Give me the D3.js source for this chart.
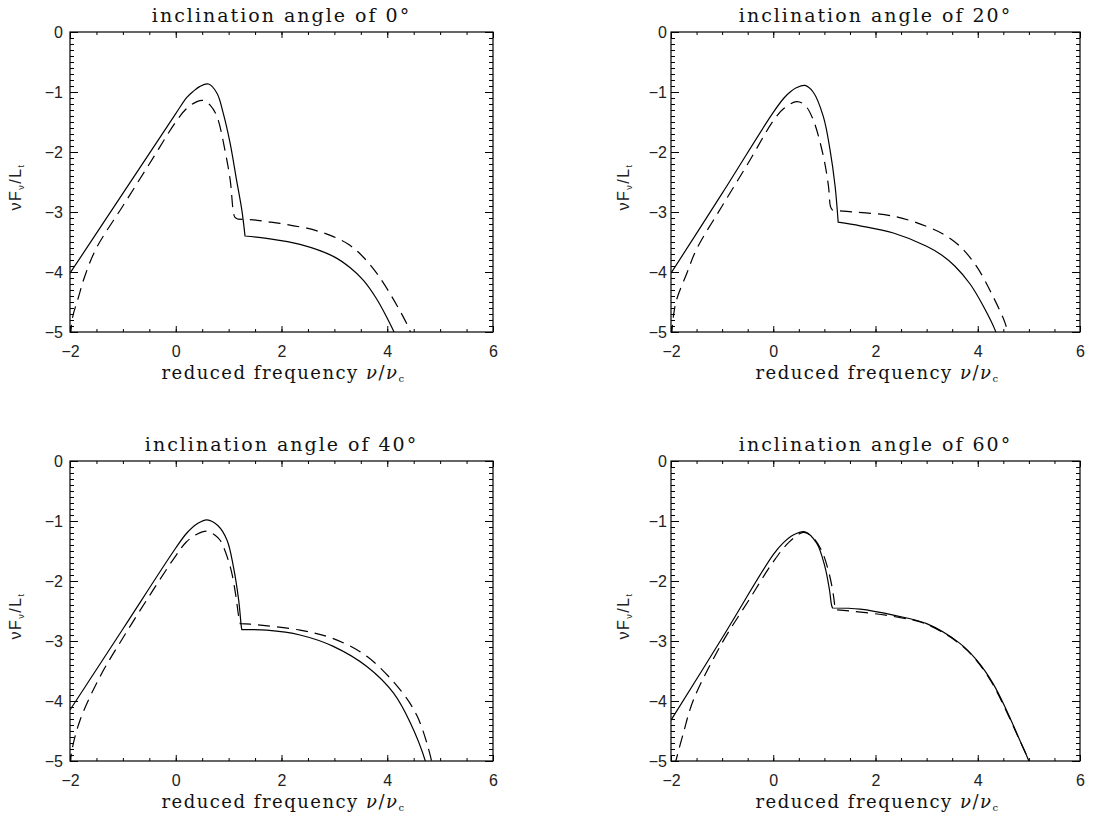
<!DOCTYPE html>
<html>
<head>
<meta charset="utf-8">
<script src="https://cdn.jsdelivr.net/npm/d3@7"></script>
<style>
body{margin:0;background:#fff;}
svg{display:block;}
</style>
</head>
<body>
<svg id="chart" width="1100" height="819"></svg>
<script>
// angles of the four panels
var angles = [0, 20, 40, 60];
var xTicks = [-2, 0, 2, 4, 6];
var yTicks = [0, -1, -2, -3, -4, -5];

// [reduced frequency, log nuFnu/Lt]
// each curve: rising part + drop, then the tail after the break
var solid0 = [[-2,-4.02],[-1,-2.69],[0,-1.36],[0.21,-1.09],[0.33,-0.99],[0.45,-0.91],[0.62,-0.867],[0.78,-1.02],[0.90,-1.36],[1.03,-1.86],[1.15,-2.47],[1.25,-2.97],[1.31,-3.40]];
var solid0Tail = [[1.31,-3.40],[1.72,-3.44],[2.35,-3.54],[2.98,-3.74],[3.30,-3.93],[3.55,-4.14],[3.80,-4.45],[4.0,-4.77],[4.14,-5.02],[4.17,-5.08]];
var dash0 = [[-1.99,-5.08],[-1.95,-4.75],[-1.85,-4.45],[-1.72,-4.07],[-1.5,-3.6],[-1,-2.9],[-0.5,-2.2],[0,-1.5],[0.2,-1.28],[0.40,-1.16],[0.52,-1.14],[0.65,-1.22],[0.78,-1.41],[0.93,-1.97],[1.03,-2.47],[1.09,-3.0],[1.12,-3.09],[1.18,-3.12]];
var dash0Tail = [[1.18,-3.12],[1.47,-3.13],[1.72,-3.16],[1.97,-3.19],[2.23,-3.23],[2.48,-3.27],[2.73,-3.33],[2.98,-3.41],[3.25,-3.53],[3.49,-3.70],[3.80,-4.02],[4.12,-4.46],[4.42,-4.96],[4.46,-5.08]];

var solid20 = [[-2,-4.02],[-1,-2.69],[0,-1.34],[0.21,-1.10],[0.33,-1.0],[0.45,-0.93],[0.62,-0.89],[0.78,-1.0],[0.98,-1.41],[1.11,-1.96],[1.21,-2.57],[1.27,-3.17]];
var solid20Tail = [[1.27,-3.17],[1.70,-3.23],[2.35,-3.35],[3.0,-3.57],[3.30,-3.72],[3.55,-3.90],[3.85,-4.20],[4.11,-4.57],[4.35,-4.99],[4.38,-5.08]];
var dash20 = [[-1.99,-5.08],[-1.95,-4.72],[-1.89,-4.46],[-1.69,-4.02],[-1.5,-3.62],[-1,-2.9],[-0.5,-2.2],[0,-1.48],[0.2,-1.28],[0.46,-1.16],[0.62,-1.22],[0.78,-1.46],[0.98,-2.07],[1.08,-2.57],[1.12,-2.91],[1.16,-2.97]];
var dash20Tail = [[1.16,-2.97],[1.44,-2.99],[2.35,-3.07],[3.0,-3.24],[3.35,-3.38],[3.65,-3.57],[3.98,-3.91],[4.30,-4.41],[4.53,-4.84],[4.61,-5.08]];

var solid40 = [[-2,-4.15],[-1,-2.8],[0,-1.45],[0.21,-1.2],[0.4,-1.05],[0.59,-0.98],[0.8,-1.08],[0.97,-1.32],[1.09,-1.76],[1.19,-2.32],[1.24,-2.76],[1.25,-2.81]];
var solid40Tail = [[1.25,-2.81],[1.72,-2.82],[2.35,-2.9],[2.98,-3.09],[3.62,-3.43],[4.12,-3.87],[4.44,-4.37],[4.72,-5.0],[4.74,-5.08]];
var dash40 = [[-1.99,-5.08],[-1.97,-4.85],[-1.81,-4.32],[-1.43,-3.59],[-1,-2.95],[-0.5,-2.25],[0,-1.58],[0.2,-1.35],[0.4,-1.22],[0.59,-1.17],[0.75,-1.24],[0.84,-1.32],[1.03,-1.76],[1.13,-2.21],[1.19,-2.59],[1.22,-2.71]];
var dash40Tail = [[1.22,-2.71],[1.41,-2.72],[2.35,-2.82],[2.98,-2.96],[3.62,-3.26],[4.25,-3.82],[4.57,-4.26],[4.82,-4.93],[4.85,-5.08]];

var solid60 = [[-2,-4.32],[-1,-2.95],[0,-1.56],[0.2,-1.36],[0.4,-1.23],[0.62,-1.18],[0.85,-1.37],[1.01,-1.76],[1.10,-2.15],[1.14,-2.40],[1.16,-2.45]];
var solid60Tail = [[1.16,-2.45],[1.70,-2.47],[2.35,-2.57],[3.0,-2.71],[3.65,-3.04],[3.98,-3.32],[4.30,-3.71],[4.56,-4.15],[4.79,-4.59],[5.0,-5.0],[5.03,-5.08]];
var dash60 = [[-1.93,-5.08],[-1.76,-4.54],[-1.56,-3.98],[-1,-3.03],[-0.5,-2.35],[0,-1.68],[0.3,-1.36],[0.59,-1.19],[0.78,-1.28],[0.95,-1.5],[1.07,-1.8],[1.15,-2.1],[1.19,-2.32],[1.21,-2.48]];
var dash60Tail = [[1.21,-2.48],[1.37,-2.49],[2.35,-2.59],[3.0,-2.72],[3.65,-3.05],[3.98,-3.33],[4.30,-3.73],[4.56,-4.17],[4.79,-4.60],[5.02,-5.02],[5.05,-5.08]];

var solids = [[solid0, solid0Tail], [solid20, solid20Tail], [solid40, solid40Tail], [solid60, solid60Tail]];
var dashes = [[dash0, dash0Tail], [dash20, dash20Tail], [dash40, dash40Tail], [dash60, dash60Tail]];

// panel boxes (pixels)
var boxes = [
	{left:70, top:32, w:423, h:300, gap:7, ylab:55},
	{left:671, top:32, w:409, h:300, gap:4, ylab:48},
	{left:70, top:461, w:423, h:300, gap:7, ylab:55},
	{left:671, top:461, w:409, h:300, gap:4, ylab:48}
];

var svg = d3.select("#chart");
var fmt = function(d){ return d < 0 ? "\u2212" + Math.abs(d) : "" + d; };

boxes.forEach(function(b, i){
	var g = svg.append("g").attr("transform", "translate(" + b.left + "," + b.top + ")");
	var x = d3.scaleLinear().domain([-2, 6]).range([0, b.w]);
	var y = d3.scaleLinear().domain([-5, 0]).range([b.h, 0]);

	g.append("clipPath").attr("id", "clip" + i)
		.append("rect").attr("width", b.w).attr("height", b.h);

	// minor ticks
	var xMinor = d3.range(-2, 6.001, 0.5);
	var yMinor = d3.range(-5, 0.001, 0.1);
	g.append("g").attr("transform", "translate(0," + b.h + ")")
		.call(d3.axisBottom(x).tickValues(xMinor).tickSize(-3).tickSizeOuter(0).tickFormat(""));
	g.append("g")
		.call(d3.axisTop(x).tickValues(xMinor).tickSize(-3).tickSizeOuter(0).tickFormat(""));
	g.append("g")
		.call(d3.axisLeft(y).tickValues(yMinor).tickSize(-4).tickSizeOuter(0).tickFormat(""));
	g.append("g").attr("transform", "translate(" + b.w + ",0)")
		.call(d3.axisRight(y).tickValues(yMinor).tickSize(-4).tickSizeOuter(0).tickFormat(""));

	// major ticks + labels
	var xa = g.append("g").attr("class", "xa").attr("transform", "translate(0," + b.h + ")")
		.call(d3.axisBottom(x).tickValues(xTicks).tickSize(-6).tickSizeOuter(0).tickPadding(14).tickFormat(fmt));
	g.append("g")
		.call(d3.axisTop(x).tickValues(xTicks).tickSize(-6).tickSizeOuter(0).tickFormat(""));
	var ya = g.append("g").attr("class", "ya")
		.call(d3.axisLeft(y).tickValues(yTicks).tickSize(-8).tickSizeOuter(0).tickPadding(b.gap).tickFormat(fmt));
	g.append("g").attr("transform", "translate(" + b.w + ",0)")
		.call(d3.axisRight(y).tickValues(yTicks).tickSize(-8).tickSizeOuter(0).tickFormat(""));

	g.selectAll(".tick line").attr("stroke", "#000").attr("stroke-width", 1);
	g.selectAll(".domain").remove();
	g.selectAll(".xa text, .ya text")
		.attr("font-family", "Liberation Sans, Arial, sans-serif")
		.attr("font-size", "16px")
		.attr("fill", "#222");
	ya.selectAll("text").attr("dy", "0.36em");

	g.append("rect").attr("width", b.w).attr("height", b.h)
		.attr("fill", "none").attr("stroke", "#000").attr("stroke-width", 1.2);

	var line = d3.line()
		.x(function(d){ return x(d[0]); })
		.y(function(d){ return y(d[1]); })
		.curve(d3.curveCatmullRom.alpha(0.5));
	var path = function(parts){
		return line(parts[0]) + line(parts[1]).replace(/^M/, "L");
	};

	var plot = g.append("g").attr("clip-path", "url(#clip" + i + ")");
	plot.append("path").attr("d", path(solids[i]))
		.attr("fill", "none").attr("stroke", "#000").attr("stroke-width", 1.2);
	plot.append("path").attr("d", path(dashes[i]))
		.attr("fill", "none").attr("stroke", "#000").attr("stroke-width", 1.2)
		.attr("stroke-dasharray", "12,7");

	// title
	g.append("text")
		.attr("x", b.w / 2).attr("y", -10)
		.attr("text-anchor", "middle")
		.attr("font-family", "DejaVu Serif, serif")
		.attr("font-size", "19px")
		.attr("letter-spacing", "2px")
		.attr("fill", "#111")
		.text("inclination angle of " + angles[i] + "\u00b0");

	// x title
	var xt = g.append("text")
		.attr("x", b.w / 2 + 2).attr("y", b.h + 47)
		.attr("text-anchor", "middle")
		.attr("font-family", "DejaVu Serif, serif")
		.attr("font-size", "18px")
		.attr("letter-spacing", "1.5px")
		.attr("fill", "#111");
	xt.append("tspan").text("reduced frequency ");
	xt.append("tspan").attr("font-style", "italic").text("\u03bd");
	xt.append("tspan").text("/");
	xt.append("tspan").attr("font-style", "italic").text("\u03bd");
	xt.append("tspan").attr("font-size", "10px").attr("dy", 3).text("c");

	// y title
	var yt = g.append("text")
		.attr("transform", "translate(" + (-b.ylab) + "," + (b.h / 2 + 5) + ") rotate(-90)")
		.attr("text-anchor", "middle")
		.attr("dy", "0.35em")
		.attr("font-family", "Liberation Sans, Arial, sans-serif")
		.attr("font-size", "16px")
		.attr("letter-spacing", "1.5px")
		.attr("fill", "#222");
	yt.append("tspan").text("\u03bdF");
	yt.append("tspan").attr("font-size", "9px").attr("dy", 3).text("\u03bd");
	yt.append("tspan").attr("dy", -3).text("/L");
	yt.append("tspan").attr("font-size", "9px").attr("dy", 3).text("t");
});
</script>
</body>
</html>
